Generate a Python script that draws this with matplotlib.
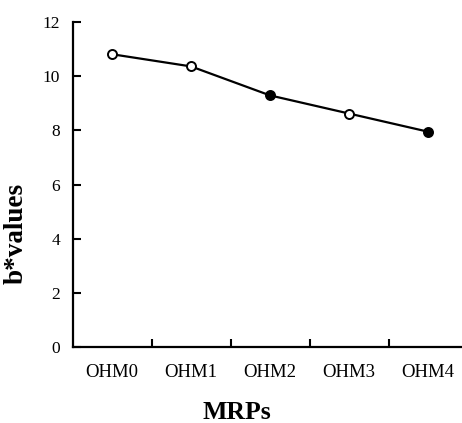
import numpy as np
import matplotlib.pyplot as plt

categories = ["OHM0", "OHM1", "OHM2", "OHM3", "OHM4"]
b_values = [10.81, 10.36, 9.29, 8.62, 7.95]
filled = [False, False, True, False, True]
y_ticks = [0, 2, 4, 6, 8, 10, 12]

plt.rcParams["font.family"] = ["Liberation Serif", "DejaVu Serif"]

fig = plt.figure(figsize=(4.62, 4.23), dpi=100)
ax = fig.add_axes([72.5 / 462, 76 / 423, 395 / 462, 325 / 423])

x = np.arange(len(categories))
ax.plot(x, b_values, color="black", linewidth=1.6, zorder=2)
for xi, yi, f in zip(x, b_values, filled):
    ax.plot(xi, yi, marker="o", markersize=6.5, markeredgewidth=1.4,
            markeredgecolor="black", markerfacecolor="black" if f else "white",
            linestyle="none", zorder=3)

ax.set_xlim(-0.5, len(categories) - 0.5)
ax.set_ylim(0, 12)
ax.set_yticks(y_ticks)
ax.set_yticklabels([str(v) for v in y_ticks], fontsize=12.5)
ax.set_xticks(x)
ax.set_xticklabels(categories, fontsize=13.5)
ax.set_xticks(x[:-1] + 0.5, minor=True)

ax.tick_params(axis="x", which="major", length=0, pad=12)
ax.tick_params(axis="x", which="minor", direction="in", length=6, width=1.5)
ax.tick_params(axis="y", direction="in", length=6, width=1.5, pad=9)

ax.spines["top"].set_visible(False)
ax.spines["right"].set_visible(False)
ax.spines["left"].set_linewidth(1.6)
ax.spines["bottom"].set_linewidth(1.6)

ax.set_ylabel("b*values", fontsize=19.5, fontweight="bold")
ax.yaxis.set_label_coords(-0.112, 0.348)
ax.set_xlabel("MRPs", fontsize=18.5, fontweight="bold")
ax.xaxis.set_label_coords(0.415, -0.165)

fig.savefig("out.png", dpi=100)
